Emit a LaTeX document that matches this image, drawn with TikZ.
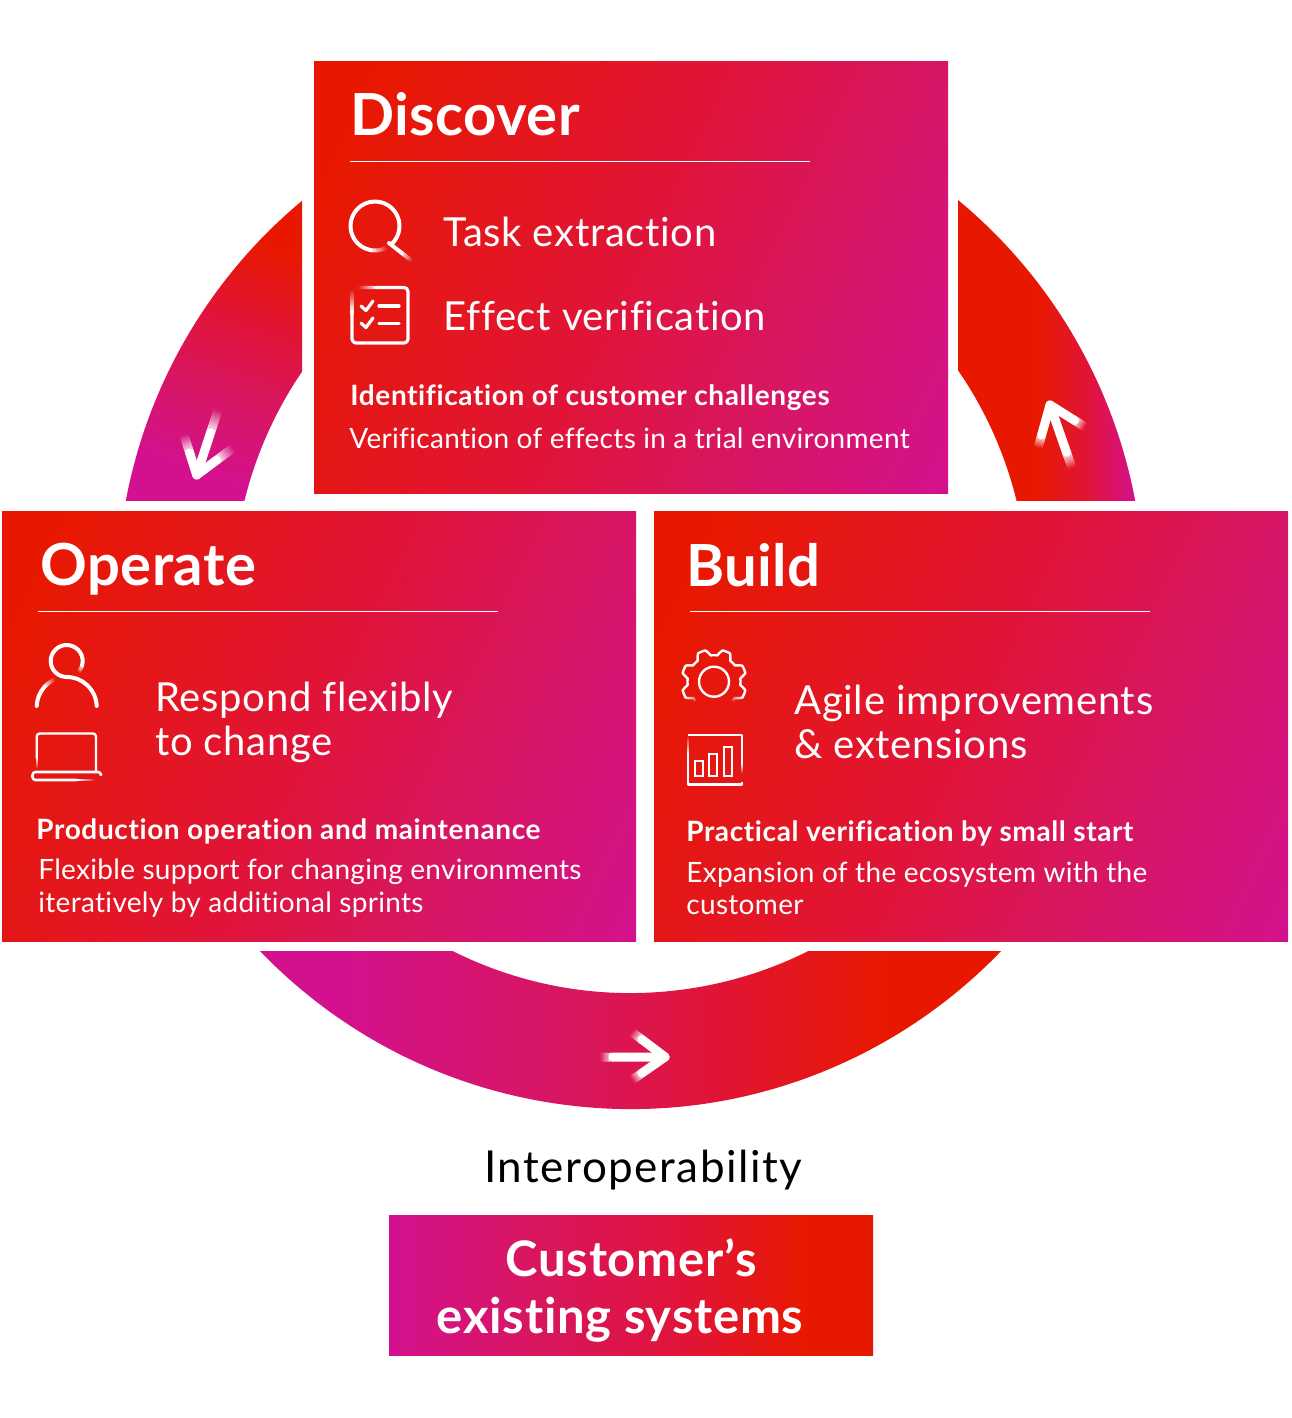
\documentclass[tikz,border=0pt]{standalone}
\usepackage{fontspec}
\setmainfont{Lato}[Ligatures=NoCommon]
\usetikzlibrary{calc}
\definecolor{fred}{HTML}{E81800}
\definecolor{fmid}{HTML}{E0143A}
\definecolor{fcrim}{HTML}{D8165F}
\definecolor{fmag}{HTML}{D3118F}
\pgfdeclarehorizontalshading{boxgrad}{100bp}{color(0bp)=(fred); color(22bp)=(fred); color(50bp)=(fmid); color(64bp)=(fcrim); color(84bp)=(fmag); color(100bp)=(fmag)}
\pgfdeclarehorizontalshading{leftgrad}{100bp}{color(0bp)=(fmag); color(27bp)=(fmag); color(44bp)=(fcrim); color(56bp)=(fmid); color(72bp)=(fred); color(100bp)=(fred)}
\pgfdeclarehorizontalshading{rightgrad}{100bp}{color(0bp)=(fred); color(47bp)=(fred); color(62bp)=(fmid); color(75bp)=(fmag); color(100bp)=(fmag)}
\pgfdeclarehorizontalshading{bottomgrad}{100bp}{color(0bp)=(fmag); color(30bp)=(fmag); color(46bp)=(fcrim); color(55bp)=(fmid); color(67bp)=(fred); color(100bp)=(fred)}
\pgfdeclarehorizontalshading{sysgrad}{100bp}{color(0bp)=(fmag); color(25bp)=(fmag); color(40bp)=(fcrim); color(55bp)=(fmid); color(68bp)=(fred); color(100bp)=(fred)}
% straight stroke: solid from #1 to the fraction #3, then fading out towards #2
\newcommand\fadeline[4]{%
  \draw[white,line width=#4,line cap=round] #1 -- ($#1!#3!#2$);
  \foreach \k in {0,...,9}{%
    \pgfmathsetmacro\ta{#3+(1-#3)*\k/10}%
    \pgfmathsetmacro\tb{#3+(1-#3)*(\k+1)/10}%
    \pgfmathsetmacro\op{1-(\k+0.5)/10}%
    \draw[white,opacity=\op,line width=#4] ($#1!\ta!#2$) -- ($#1!\tb!#2$);
  }}
% curved stroke fading from parameter #1 to #2
\newcommand\fadeplot[4]{%
  \foreach \k in {0,...,9}{%
    \pgfmathsetmacro\ta{#1+(#2-#1)*\k/10}%
    \pgfmathsetmacro\tb{#1+(#2-#1)*(\k+1)/10}%
    \pgfmathsetmacro\op{1-(\k+0.5)/10}%
    \draw[white,opacity=\op,line width=#4] plot[domain=\ta:\tb,samples=4] (#3);
  }}
\newcommand\gearr{(29.5+3*min(1,max(-1,1.8*cos(8*(\x-22.5)))))}
\tikzset{
  box/.style={shading=boxgrad,shading angle=-25},
  rulew/.style={white,line width=0.8pt},
  ico/.style={white,line width=1.6pt,line cap=round,line join=round},
  title/.style={anchor=base west,text=white,inner sep=0pt,font=\fontsize{29}{29}\selectfont\bfseries\addfontfeatures{LetterSpace=0.8}},
  lead/.style={anchor=base west,text=white,inner sep=0pt,font=\fontsize{20}{20}\selectfont\addfontfeatures{LetterSpace=1.7}},
  sub/.style={anchor=base west,text=white,inner sep=0pt,font=\fontsize{14}{14}\selectfont\bfseries\addfontfeatures{LetterSpace=2.2}},
  bodyt/.style={anchor=base west,text=white,inner sep=0pt,font=\fontsize{14}{14}\selectfont\addfontfeatures{LetterSpace=1.1}},
  sysname/.style={anchor=base,text=white,inner sep=0pt,font=\fontsize{24.5}{24.5}\selectfont\bfseries\addfontfeatures{LetterSpace=1.5}},
}
\begin{document}
\begin{tikzpicture}[x=0.5pt,y=0.5pt,yscale=-1]
\useasboundingbox (0,0) rectangle (1291,1418);
\fill[white] (0,0) rectangle (1291,1418);
% ring pieces
\begin{scope}
  \clip ([shift={(630.5,595.5)}]150:513.5) arc (150:262:513.5) -- ([shift={(630.5,595.5)}]262:397.5) arc (262:150:397.5) -- cycle;
  \clip (125,200) rectangle (302,500);
  \shade[shading=leftgrad,shading angle=70] (125,200) rectangle (302,500);
\end{scope}
\begin{scope}
  \clip ([shift={(630.5,595.5)}]278:513.5) arc (278:390:513.5) -- ([shift={(630.5,595.5)}]390:397.5) arc (390:278:397.5) -- cycle;
  \clip (958,200) rectangle (1136,500);
  \shade[shading=rightgrad] (958,200) rectangle (1136,500);
\end{scope}
\begin{scope}
  \clip ([shift={(630.5,595.5)}]10:513.5) arc (10:170:513.5) -- ([shift={(630.5,595.5)}]170:397.5) arc (170:10:397.5) -- cycle;
  \clip (255,951) rectangle (1005,1112);
  \shade[shading=bottomgrad] (255,951) rectangle (1005,1112);
\end{scope}
% arrows on the ring
\fadeline{(196.7,475)}{(218,410)}{0.65}{4.5pt}
\fadeline{(196.7,475)}{(184,435)}{0.55}{4.5pt}
\fadeline{(196.7,475)}{(233,448)}{0.55}{4.5pt}
\fadeline{(1050,405)}{(1072,468)}{0.75}{4.5pt}
\fadeline{(1050,405)}{(1038,448)}{0.7}{4.5pt}
\fadeline{(1050,405)}{(1085,427)}{0.7}{4.5pt}
\fadeline{(665,1057)}{(600,1057)}{0.8}{4.5pt}
\fadeline{(665,1057)}{(632,1032)}{0.7}{4.5pt}
\fadeline{(665,1057)}{(632,1080)}{0.7}{4.5pt}
% boxes
\shade[box] (314,62) rectangle (948,493);
\shade[box] (2,511) rectangle (636,941);
\shade[box] (654,511) rectangle (1288,941);
\shade[shading=sysgrad] (389,1215) rectangle (873,1355);
% rules
\draw[rulew] (350,161.5) -- (810,161.5);
\draw[rulew] (38,611.5) -- (498,611.5);
\draw[rulew] (690,611.5) -- (1150,611.5);
% Discover
\node[title] (ndiscover) at (350,135) {Discover};
\node[lead] (ntask) at (443,246) {Task extraction};
\node[lead] (neffect) at (443,330) {Effect verification};
\node[sub] (nident) at (350,405) {Identification of customer challenges};
\node[bodyt] (nverif) at (349,448) {Verificantion of effects in a trial environment};
% Operate
\node[title] (noperate) at (40,585) {Operate};
\node[lead] (nresp) at (155,711) {Respond flexibly};
\node[lead] (nchange) at (155,755) {to change};
\node[sub] (nprod) at (36,839) {Production operation and maintenance};
\node[bodyt] (nflex) at (38,879) {Flexible support for changing environments};
\node[bodyt] (niter) at (38,912) {iteratively by additional sprints};
% Build
\node[title] (nbuild) at (686,586) {Build};
\node[lead] (nagile) at (794,714) {Agile improvements};
\node[lead] (next) at (794,758) {\& extensions};
\node[sub] (nprac) at (686,841) {Practical verification by small start};
\node[bodyt] (nexp) at (686,882) {Expansion of the ecosystem with the};
\node[bodyt] (ncust) at (686,914) {customer};
% bottom
\node[anchor=base west,inner sep=0pt,font=\fontsize{22}{22}\selectfont\addfontfeatures{LetterSpace=3.4}] (ninter) at (484,1182) {Interoperability};
\node[sysname] (ncust1) at (631,1276) {Customer’s};
\node[sysname] (ncust2) at (620,1333) {existing systems};
% magnifier
\draw[ico,line width=2pt] ([shift={(375,226)}]100:24.5) arc (100:405:24.5);
\fadeplot{100}{60}{{375+24.5*cos(\x)},{226+24.5*sin(\x)}}{2pt}
\fadeline{(389,243)}{(412,261)}{0.55}{2pt}
% checklist
\draw[ico,rounded corners=2pt] (377,287.5) -- (408,287.5) -- (408,343) -- (352,343) -- (352,313);
\fadeline{(377,287.5)}{(358,287.5)}{0.05}{1.6pt}
\fadeline{(352,313)}{(352,290)}{0.05}{1.6pt}
\draw[ico] (361,306) -- (366,310.5) -- (373,301);
\draw[ico] (361,323) -- (366,327.5) -- (373,318);
\draw[ico] (379,306) -- (399,306);
\draw[ico] (379,323.5) -- (399,323.5);
% person
\draw[ico,line width=2pt] ([shift={(66.7,661)}]90:16) arc (90:375:16);
\fadeplot{375}{405}{{66.7+16*cos(\x)},{661+16*sin(\x)}}{2pt}
\draw[ico,line width=2pt] ([shift={(66.7,707)}]270:30) arc (270:358:30);
\draw[ico,line width=2pt] ([shift={(66.7,707)}]182:30) arc (182:222:30);
\fadeplot{222}{248}{{66.7+30*cos(\x)},{707+30*sin(\x)}}{2pt}
% laptop
\draw[white,line width=1.2pt,line join=round,line cap=round,rounded corners=1.5pt] (36.7,757) -- (36.7,733.5) -- (96,733.5) -- (96,771);
\fadeline{(36.7,757)}{(36.7,769)}{0.05}{1.2pt}
\draw[ico,line width=1.3pt,rounded corners=1.5pt] (77,780) -- (32.5,780) -- (32.5,772) -- (101,772) -- (101,774.5);
\fadeline{(77,780)}{(96,780)}{0.05}{1.3pt}
% gear
\draw[white,line width=1.2pt] (714,681.7) circle (15);
\draw[white,line width=1.2pt,line join=round] plot[domain=150:390,samples=241] ({714+\gearr*cos(\x)},{681.7+\gearr*sin(\x)});
\fadeplot{150}{132}{{714+\gearr*cos(\x)},{681.7+\gearr*sin(\x)}}{1.2pt}
\fadeplot{390}{408}{{714+\gearr*cos(\x)},{681.7+\gearr*sin(\x)}}{1.2pt}
% bar chart
\draw[white,line width=1.2pt,line join=round] (688,735) -- (742,735) -- (742,763);
\fadeline{(742,763)}{(742,774)}{0.05}{1.2pt}
\draw[white,line width=1.2pt,line join=round] (688,755) -- (688,784.5) -- (742,784.5) -- (742,782);
\fadeline{(688,755)}{(688,736)}{0.05}{1.2pt}
\draw[white,line width=1.2pt] (695,761) rectangle (703,776);
\draw[white,line width=1.2pt] (709,754) rectangle (717,776);
\draw[white,line width=1.2pt] (724,747) rectangle (732,776);
\end{tikzpicture}
\end{document}
